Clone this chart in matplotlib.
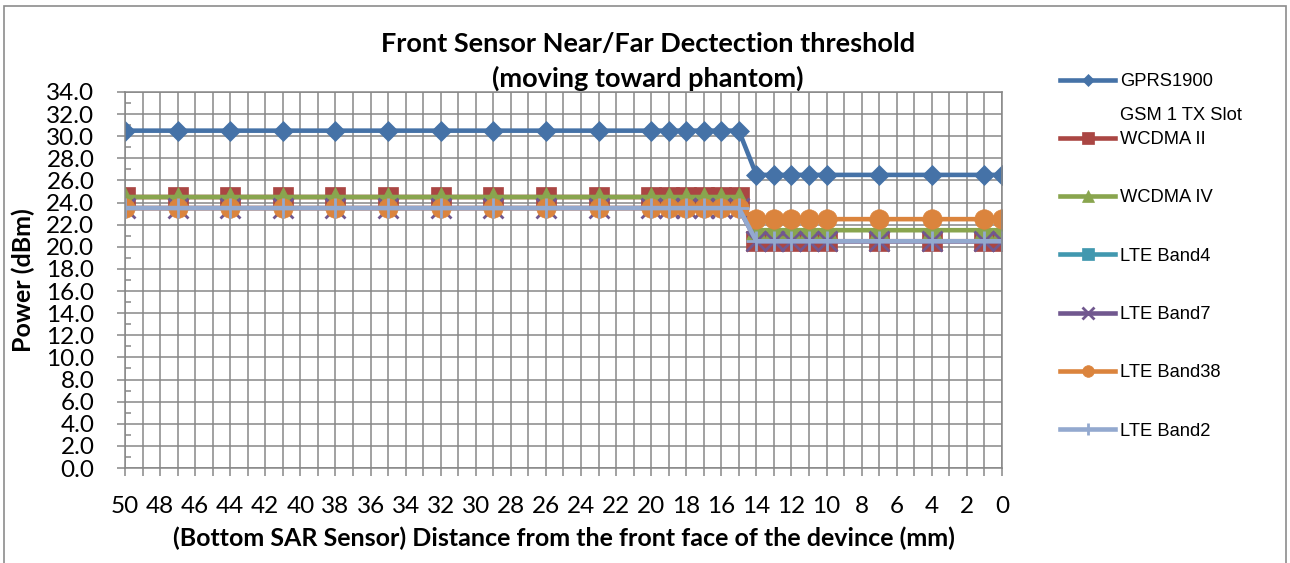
import matplotlib
matplotlib.use("Agg")
import matplotlib.pyplot as plt
from matplotlib.ticker import MultipleLocator, FormatStrFormatter
from matplotlib.patches import Rectangle

# distance from front face (mm), measured points
distance = [50, 47, 44, 41, 38, 35, 32, 29, 26, 23, 20, 19, 18, 17, 16, 15,
            14, 13, 12, 11, 10, 7, 4, 1, 0]

gprs1900 = [30.5] * 16 + [26.5] * 9
wcdma_ii = [24.5] * 16 + [20.5] * 9
wcdma_iv = [24.5] * 16 + [21.5] * 9
lte_band4 = []  # listed in legend, no points shown
lte_band7 = [23.5] * 16 + [20.5] * 9
lte_band38 = [23.5] * 16 + [22.5] * 9
lte_band2 = [23.5] * 16 + [20.5] * 9

series = [
    ("GPRS1900", gprs1900, "#4572A7", "D", 10),
    ("WCDMA II", wcdma_ii, "#AA4643", "s", 14),
    ("WCDMA IV", wcdma_iv, "#89A54E", "^", 14),
    ("LTE Band4", lte_band4, "#4198AF", "s", 14),
    ("LTE Band7", lte_band7, "#71588F", "x", 14),
    ("LTE Band38", lte_band38, "#DB843D", "o", 14),
    ("LTE Band2", lte_band2, "#93A9CF", "+", 14),
]

grid_col = "#878787"

fig = plt.figure(figsize=(12.9, 5.63), dpi=100)
ax = fig.add_axes([0.0969, 0.1687, 0.6798, 0.668])

for name, vals, col, mk, ms in series:
    x = distance[:len(vals)]
    ax.plot(x, vals, color=col, lw=3.3, marker=mk, markersize=ms,
            markeredgewidth=2 if mk in "x+" else 0.5, markeredgecolor=col,
            label=name)

ax.set_xlim(50, 0)
ax.set_ylim(0, 34)
ax.xaxis.set_major_locator(MultipleLocator(2))
ax.xaxis.set_minor_locator(MultipleLocator(1))
ax.yaxis.set_major_locator(MultipleLocator(2))
ax.yaxis.set_minor_locator(MultipleLocator(1))
ax.yaxis.set_major_formatter(FormatStrFormatter("%.1f"))

ax.grid(which="major", axis="both", color=grid_col, lw=1.1)
ax.grid(which="minor", axis="x", color=grid_col, lw=1.1)
ax.set_axisbelow(True)
for s in ax.spines.values():
    s.set_color(grid_col)
    s.set_linewidth(1.1)

ax.tick_params(axis="x", which="both", direction="out", length=6, width=1.1,
               color=grid_col, pad=14)
ax.tick_params(axis="y", which="major", direction="out", length=6, width=1.1,
               color=grid_col, pad=16)
ax.tick_params(axis="y", which="minor", direction="in", length=4, width=1.1,
               color=grid_col)
for lab in ax.get_xticklabels() + ax.get_yticklabels():
    lab.set_fontfamily("Lato")
    lab.set_fontsize(17.5)

ax.set_ylabel("Power (dBm)", fontfamily="Lato", fontweight="bold",
              fontsize=18, labelpad=8)
ax.set_xlabel("(Bottom SAR Sensor) Distance from the front face of the devince (mm)",
              fontfamily="Lato", fontweight="bold", fontsize=18, labelpad=7)

fig.text(0.502, 0.922, "Front Sensor Near/Far Dectection threshold",
         ha="center", va="center", fontfamily="Lato", fontweight="bold", fontsize=19.5)
fig.text(0.502, 0.861, "(moving toward phantom)",
         ha="center", va="center", fontfamily="Lato", fontweight="bold", fontsize=19.5)

leg = fig.legend(loc="upper left", bbox_to_anchor=(1060 / 1290, 1 - 73 / 563),
                 frameon=False, prop={"family": "Liberation Sans", "size": 13.2},
                 handlelength=3.0, handletextpad=0.28, labelspacing=2.25,
                 borderpad=0, borderaxespad=0, markerscale=0.6)
fig.text(1120 / 1290, 1 - 115 / 563, "GSM 1 TX Slot", ha="left", va="center",
         fontfamily="Liberation Sans", fontsize=13.2)

fig.patches.append(Rectangle((0.003, -0.01), 0.994, 0.9995, transform=fig.transFigure,
                             fill=False, edgecolor="#8c8c8c", lw=1.2))

fig.savefig("out.png", dpi=100)
